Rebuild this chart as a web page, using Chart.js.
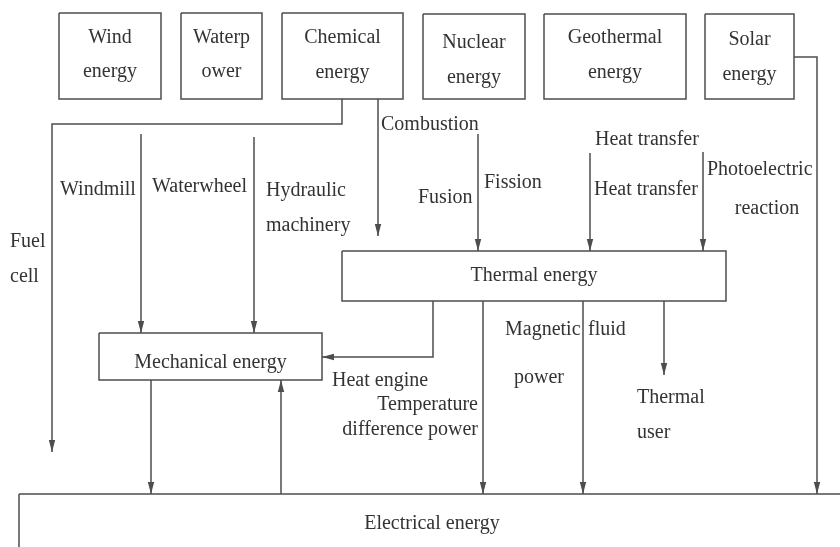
<!DOCTYPE html>
<html>
<head>
<meta charset="utf-8">
<script src="https://cdn.jsdelivr.net/npm/chart.js@4/dist/chart.umd.min.js"></script>
<style>
  html, body { margin: 0; padding: 0; background: #fff; }
</style>
</head>
<body>
<canvas id="chart" width="840" height="547"></canvas>
<script>
// diagram nodes: label lines, left, top, right, bottom (in scale units)
const nodes = [
  { lines: ['Wind', 'energy'], box: [59, 13, 161, 99], rows: [38, 72] },
  { lines: ['Waterp', 'ower'], box: [181, 13, 262, 99], rows: [38, 72] },
  { lines: ['Chemical', 'energy'], box: [282, 13, 403, 99], rows: [38, 73] },
  { lines: ['Nuclear', 'energy'], box: [423, 14, 525, 99], rows: [43, 78] },
  { lines: ['Geothermal', 'energy'], box: [544, 14, 686, 99], rows: [38, 73] },
  { lines: ['Solar', 'energy'], box: [705, 14, 794, 99], rows: [40, 75] },
  { lines: ['Thermal energy'], box: [342, 251, 726, 301], rows: [276] },
  { lines: ['Mechanical energy'], box: [99, 333, 322, 380], rows: [363] },
  { lines: ['Electrical energy'], box: [19, 494, 846, 552], rows: [524], cx: 432 },
];

// connections: polylines, arrowhead at the last point
const links = [
  [[342, 99], [342, 124], [52, 124], [52, 452]],
  [[378, 99], [378, 236]],
  [[141, 134], [141, 333]],
  [[254, 137], [254, 333]],
  [[478, 134], [478, 251]],
  [[590, 153], [590, 251]],
  [[703, 152], [703, 251]],
  [[433, 301], [433, 357], [322, 357]],
  [[483, 301], [483, 494]],
  [[583, 301], [583, 494]],
  [[664, 301], [664, 375]],
  [[151, 380], [151, 494]],
  [[281, 494], [281, 380]],
  [[794, 57], [817, 57], [817, 494]],
];

// free labels: text, x, y, alignment
const notes = [
  ['Combustion', 381, 125, 'left'],
  ['Fuel', 10, 242, 'left'],
  ['cell', 10, 277, 'left'],
  ['Windmill', 60, 190, 'left'],
  ['Waterwheel', 152, 187, 'left'],
  ['Hydraulic', 266, 191, 'left'],
  ['machinery', 266, 226, 'left'],
  ['Fusion', 418, 198, 'left'],
  ['Fission', 484, 183, 'left'],
  ['Heat transfer', 595, 140, 'left'],
  ['Heat transfer', 594, 190, 'left'],
  ['Photoelectric', 707, 170, 'left'],
  ['reaction', 767, 209, 'center'],
  ['Magnetic', 505, 330, 'left'],
  ['fluid', 588, 330, 'left'],
  ['power', 514, 378, 'left'],
  ['Heat engine', 332, 381, 'left'],
  ['Temperature', 478, 405, 'right'],
  ['difference power', 478, 430, 'right'],
  ['Thermal', 637, 398, 'left'],
  ['user', 637, 433, 'left'],
];

const lineColor = '#4d4d4d';
const textColor = '#333333';
const font = '20px "Liberation Serif", "DejaVu Serif", serif';

const toPoints = (pts) => pts.map(([x, y]) => ({ x, y }));

const boxSets = nodes.map((n) => {
  const [l, t, r, b] = n.box;
  return {
    data: toPoints([[l, t], [r, t], [r, b], [l, b], [l, t]]),
    showLine: true,
    borderColor: lineColor,
    borderWidth: 1.5,
    pointRadius: 0,
    fill: false,
  };
});

const linkSets = links.map((pts) => ({
  data: toPoints(pts),
  showLine: true,
  borderColor: lineColor,
  borderWidth: 1.5,
  pointRadius: 0,
  fill: false,
  isLink: true,
}));

const diagramPlugin = {
  id: 'diagram',
  afterDatasetsDraw(chart) {
    const { ctx } = chart;
    const xs = chart.scales.x;
    const ys = chart.scales.y;
    ctx.save();

    // arrowheads
    ctx.fillStyle = lineColor;
    chart.data.datasets.forEach((ds, i) => {
      if (!ds.isLink) return;
      const pts = chart.getDatasetMeta(i).data;
      const a = pts[pts.length - 2];
      const b = pts[pts.length - 1];
      const ang = Math.atan2(b.y - a.y, b.x - a.x);
      const len = 12;
      const half = 3.2;
      ctx.beginPath();
      ctx.moveTo(b.x, b.y);
      ctx.lineTo(b.x - len * Math.cos(ang) + half * Math.sin(ang), b.y - len * Math.sin(ang) - half * Math.cos(ang));
      ctx.lineTo(b.x - len * Math.cos(ang) - half * Math.sin(ang), b.y - len * Math.sin(ang) + half * Math.cos(ang));
      ctx.closePath();
      ctx.fill();
    });

    // texts
    ctx.fillStyle = textColor;
    ctx.font = font;
    ctx.textBaseline = 'middle';
    nodes.forEach((n) => {
      const cx = n.cx !== undefined ? n.cx : (n.box[0] + n.box[2]) / 2;
      ctx.textAlign = 'center';
      n.lines.forEach((txt, k) => {
        ctx.fillText(txt, xs.getPixelForValue(cx), ys.getPixelForValue(n.rows[k]));
      });
    });
    notes.forEach(([txt, x, y, align]) => {
      ctx.textAlign = align;
      ctx.fillText(txt, xs.getPixelForValue(x), ys.getPixelForValue(y));
    });
    ctx.restore();
  },
};

new Chart(document.querySelector('#chart'), {
  type: 'scatter',
  data: { datasets: [...boxSets, ...linkSets] },
  options: {
    responsive: false,
    animation: false,
    layout: { padding: 0 },
    scales: {
      x: { type: 'linear', min: 0, max: 840, display: false },
      y: { type: 'linear', min: 0, max: 547, reverse: true, display: false },
    },
    plugins: {
      legend: { display: false },
      tooltip: { enabled: false },
    },
  },
  plugins: [diagramPlugin],
});
</script>
</body>
</html>
